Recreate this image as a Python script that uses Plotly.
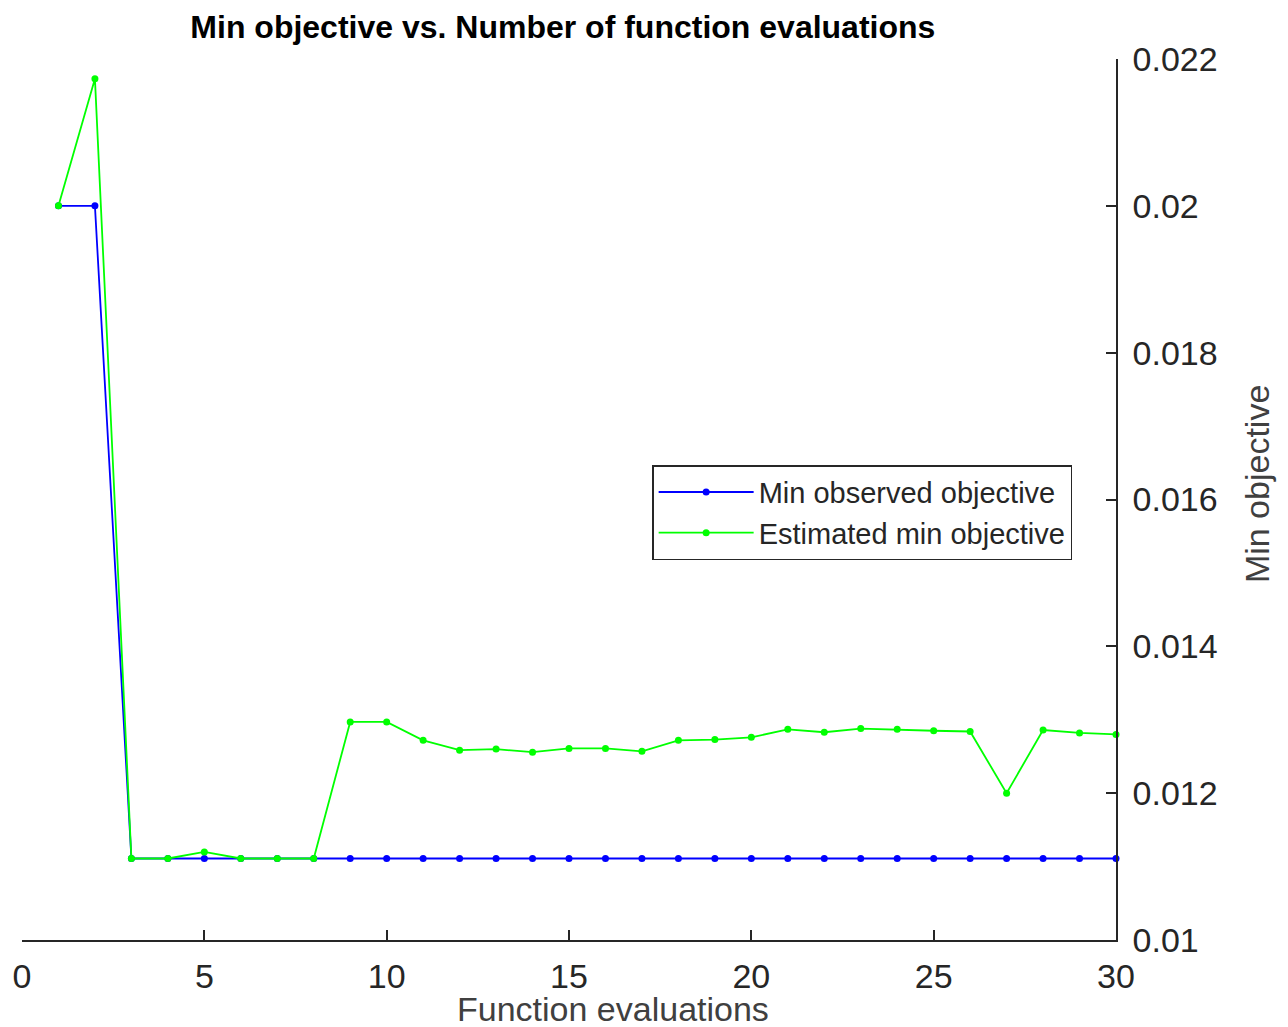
import plotly.graph_objects as go

evals = list(range(1, 31))
min_observed = [0.02, 0.02] + [0.01111] * 28
est_min = [0.02, 0.02173, 0.01111, 0.01111, 0.0112, 0.01111, 0.01111, 0.01111,
           0.01297, 0.01297, 0.01272, 0.012585, 0.0126, 0.012558, 0.01261,
           0.01261, 0.01257, 0.01272, 0.01273, 0.01276, 0.01287, 0.01283,
           0.01288, 0.01287, 0.01285, 0.01284, 0.0120, 0.01286, 0.01282, 0.0128]

x_ticks = [0, 5, 10, 15, 20, 25, 30]
y_ticks = [0.01, 0.012, 0.014, 0.016, 0.018, 0.02, 0.022]
y_ticktext = ["0.01", "0.012", "0.014", "0.016", "0.018", "0.02", "0.022"]

FONT = "Liberation Sans, Arial, sans-serif"
AX = "#262626"

fig = go.Figure()
fig.add_trace(go.Scatter(x=evals, y=min_observed, mode="lines+markers",
                         name="Min observed objective",
                         line=dict(color="#0000ff", width=1.8),
                         marker=dict(color="#0000ff", size=7),
                         cliponaxis=False))
fig.add_trace(go.Scatter(x=evals, y=est_min, mode="lines+markers",
                         name="Estimated min objective",
                         line=dict(color="#00ff00", width=1.8),
                         marker=dict(color="#00ff00", size=7),
                         cliponaxis=False))

fig.update_layout(
    width=1288, height=1027,
    paper_bgcolor="white", plot_bgcolor="white",
    margin=dict(l=22, r=172, t=59, b=87),
    title=dict(text="<b>Min objective vs. Number of function evaluations</b>",
               x=0.437, xanchor="center", y=0.974, yanchor="middle",
               font=dict(family=FONT, size=32, color="#000000")),
    font=dict(family=FONT, color=AX),
    showlegend=True,
    legend=dict(x=0.576, y=0.539, xanchor="left", yanchor="top",
                bgcolor="white", bordercolor=AX, borderwidth=1.5,
                font=dict(family=FONT, size=29, color=AX),
                itemwidth=95, tracegroupgap=0),
    xaxis=dict(range=[0, 30], tickvals=x_ticks, showgrid=False, zeroline=False,
               showline=True, linecolor=AX, linewidth=1.5, ticks="inside",
               ticklen=10, tickcolor=AX, tickwidth=1.5,
               ticklabelstandoff=5, automargin=False,
               tickfont=dict(family=FONT, size=34, color=AX)),
    yaxis=dict(range=[0.01, 0.022], tickvals=y_ticks, ticktext=y_ticktext,
               side="right", showgrid=False, zeroline=False,
               showline=True, linecolor=AX, linewidth=1.5, ticks="inside",
               ticklen=10, tickcolor=AX, tickwidth=1.5,
               ticklabelstandoff=8, automargin=False,
               tickfont=dict(family=FONT, size=34, color=AX)),
    annotations=[
        dict(text="Function evaluations", xref="paper", yref="paper",
             x=0.540, y=-0.0785, xanchor="center", yanchor="middle",
             showarrow=False, font=dict(family=FONT, size=34, color="#404040")),
        dict(text="Min objective", xref="paper", yref="paper",
             x=1.129, y=0.5176, xanchor="center", yanchor="middle",
             textangle=-90, showarrow=False,
             font=dict(family=FONT, size=34, color="#404040")),
    ],
)

fig.write_html("out.html", config={"displayModeBar": False},
               post_script="document.body.style.margin='0';")
